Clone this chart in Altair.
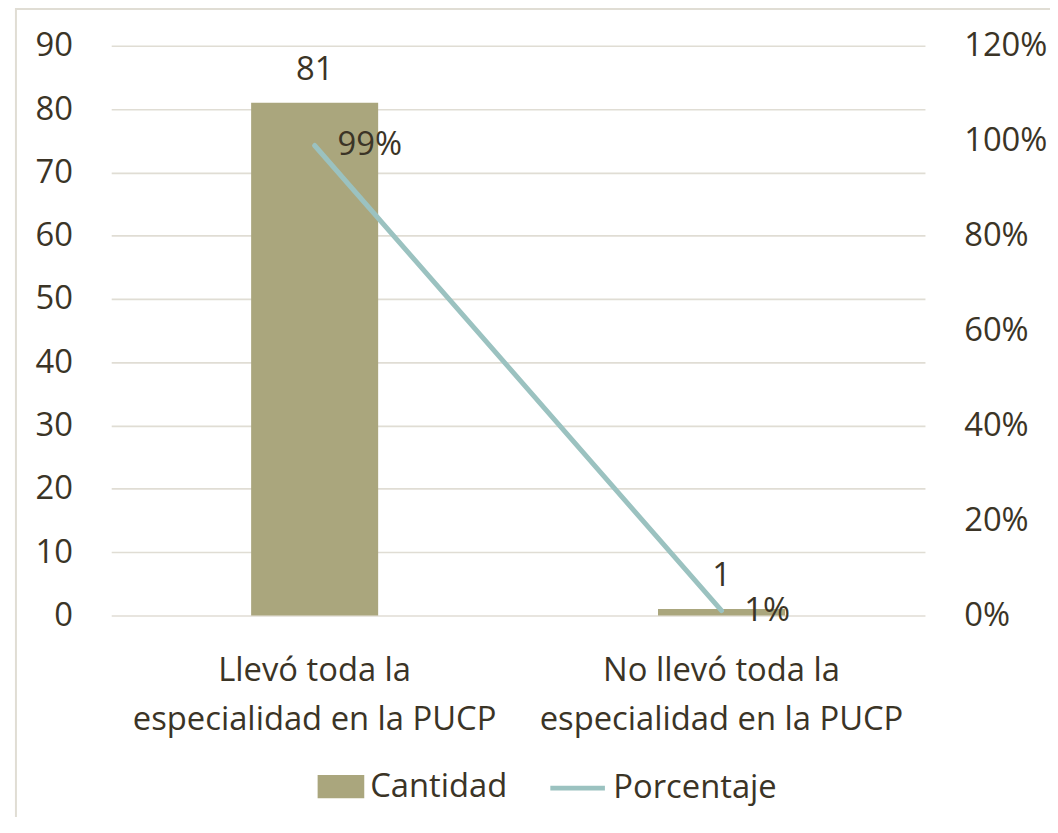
import altair as alt
import pandas as pd

categorias = ["Llevó toda la\nespecialidad en la PUCP", "No llevó toda la\nespecialidad en la PUCP"]
cantidad = [81, 1]
porcentaje = [0.99, 0.01]
etiquetas_pct = ["99%", "1%"]

df = pd.DataFrame({
    "categoria": categorias,
    "cantidad": cantidad,
    "porcentaje": porcentaje,
    "pct_label": etiquetas_pct,
    "serie_bar": ["Cantidad"] * 2,
    "serie_line": ["Porcentaje"] * 2,
})

FONT = "Open Sans"
TXT = "#3b3426"
BAR = "#aaa67d"
LINE = "#9bc2c0"
GRID = "#e0ddd4"
FS = 33

x_enc = alt.X(
    "categoria:N",
    sort=categorias,
    scale=alt.Scale(paddingInner=0, paddingOuter=0),
    axis=alt.Axis(
        title=None, labelAngle=0, domain=False, ticks=False, tickSize=0, grid=False,
        labelExpr="split(datum.label, '\\n')", labelLineHeight=49, labelLimit=0,
        labelPadding=40, labelFont=FONT, labelFontSize=FS, labelColor=TXT,
    ),
)

left_axis = alt.Axis(
    title=None, values=list(range(0, 100, 10)), domain=False, ticks=False, tickSize=0,
    grid=True, gridColor=GRID, gridWidth=1.6, labelPadding=39,
    labelFont=FONT, labelFontSize=FS, labelColor=TXT,
)
right_axis = alt.Axis(
    title=None, orient="right", values=[0, 0.2, 0.4, 0.6, 0.8, 1.0, 1.2], format=".0%",
    domain=False, ticks=False, tickSize=0, grid=False, labelPadding=39,
    labelFont=FONT, labelFontSize=FS, labelColor=TXT,
)

y_left = alt.Y("cantidad:Q", scale=alt.Scale(domain=[0, 90], nice=False), axis=left_axis)
y_right = alt.Y("porcentaje:Q", scale=alt.Scale(domain=[0, 1.2], nice=False), axis=right_axis)

base = alt.Chart(df)

bars = base.mark_bar(size=128).encode(
    x=x_enc,
    y=y_left,
    fill=alt.Fill(
        "serie_bar:N",
        scale=alt.Scale(domain=["Cantidad"], range=[BAR]),
        legend=alt.Legend(
            title=None, orient="none", legendX=208, legendY=723, padding=0,
            symbolType="M-1,-0.5H1V0.5H-1Z", symbolSize=2209, symbolStrokeWidth=0,
            labelOffset=6, labelLimit=0, labelFont=FONT, labelFontSize=FS, labelColor=TXT,
        ),
    ),
)
bar_text = base.mark_text(
    font=FONT, fontSize=FS, color=TXT, baseline="alphabetic", align="center", dy=-23
).encode(x=x_enc, y=y_left, text=alt.Text("cantidad:Q"))

line = base.mark_line(strokeWidth=5, strokeCap="round").encode(
    x=x_enc,
    y=y_right,
    stroke=alt.Stroke(
        "serie_line:N",
        scale=alt.Scale(domain=["Porcentaje"], range=[LINE]),
        legend=alt.Legend(
            title=None, orient="none", legendX=440, legendY=718, padding=0,
            symbolType="stroke", symbolSize=3025, symbolStrokeWidth=5,
            labelOffset=6, labelLimit=0, labelFont=FONT, labelFontSize=FS, labelColor=TXT,
        ),
    ),
)
line_text = base.mark_text(
    font=FONT, fontSize=FS, color=TXT, baseline="middle", align="left", dx=23, dy=0
).encode(x=x_enc, y=y_right, text="pct_label:N")

border = alt.Chart(alt.Data(values=[{"a": 1}])).mark_rect(
    fill="transparent", stroke="#e0ddd4", strokeWidth=2
).encode(
    x=alt.value(-96), x2=alt.value(1000), y=alt.value(-37), y2=alt.value(1000)
)

chart = alt.layer(
    border,
    alt.layer(bars, bar_text),
    alt.layer(line, line_text),
).resolve_scale(y="independent", fill="independent", stroke="independent").properties(
    width=820, height=574,
    background="white",
    autosize=alt.AutoSizeParams(type="none"),
    padding={"left": 104, "top": 35, "right": 126, "bottom": 200},
).configure_view(
    stroke="transparent", strokeWidth=0
).configure_axis(
    domain=False, ticks=False
)

chart.save("out.html", embed_options={"renderer": "svg", "actions": False})
